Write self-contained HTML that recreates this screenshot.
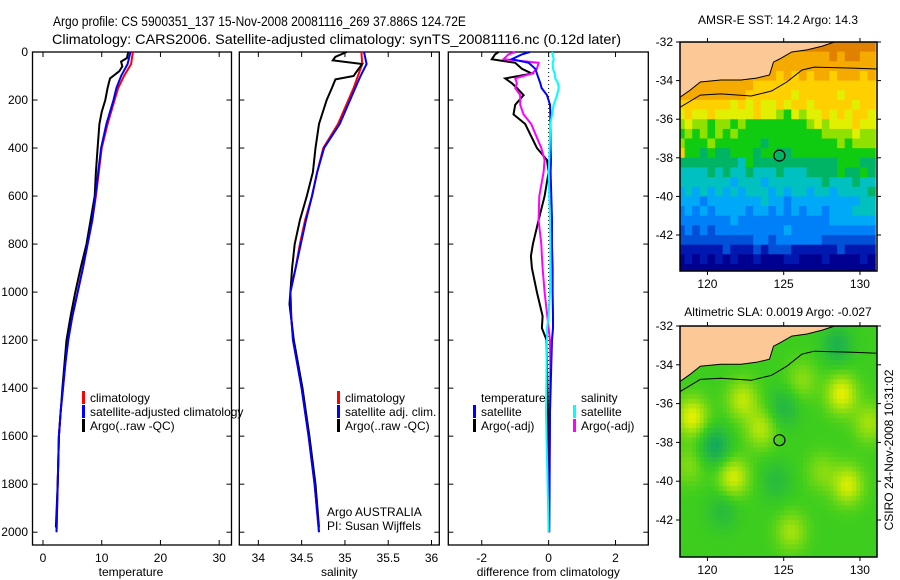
<!DOCTYPE html>
<html><head><meta charset="utf-8"><style>
body{margin:0;background:#fff;}
svg{display:block;font-family:"Liberation Sans",sans-serif;}
text{fill:#000;}
</style></head><body>
<svg id="fig" width="900" height="580" viewBox="0 0 900 580" xmlns="http://www.w3.org/2000/svg">
<text transform="translate(53,26) scale(0.86,1)" x="0" y="0" font-size="14">Argo profile: CS 5900351_137 15-Nov-2008 20081116_269 37.886S 124.72E</text>
<text x="52" y="44" font-size="14" textLength="569" lengthAdjust="spacingAndGlyphs">Climatology: CARS2006. Satellite-adjusted climatology: synTS_20081116.nc (0.12d later)</text>
<text x="778" y="24" font-size="12" text-anchor="middle">AMSR-E SST: 14.2 Argo: 14.3</text>
<text x="778" y="316" font-size="12" text-anchor="middle">Altimetric SLA: 0.0019 Argo: -0.027</text>
<text transform="translate(893,450) rotate(-90)" font-size="12" text-anchor="middle">CSIRO 24-Nov-2008 10:31:02</text>
<g id="layer"></g>
</svg>
<script>
// ---- profile data (depth in m) ----
const depthsClim = [0,50,100,150,200,300,400,500,600,700,800,900,1000,1100,1200,1300,1400,1500,1600,1800,2000];
const tempClim = [15.3,15.0,13.8,12.8,12.2,11.0,10.0,9.5,9.0,8.4,7.6,6.8,5.9,5.0,4.2,3.8,3.4,3.0,2.7,2.5,2.3];
const tempSat  = [14.9,14.4,13.3,12.5,12.0,10.8,9.9,9.4,8.9,8.4,7.6,6.8,5.9,5.0,4.3,3.8,3.4,3.0,2.7,2.5,2.3];
const depthsArgo = [0,25,40,60,80,110,150,200,250,300,400,500,600,700,800,900,1000,1100,1200,1400,1600,1800,1980];
const tempArgo = [14.5,14.3,13.3,13.5,13.0,11.4,11.0,10.6,10.0,9.6,9.3,9.0,8.8,8.1,7.4,6.4,5.5,4.7,4.0,3.3,2.7,2.5,2.2];
const salClim = [35.19,35.2,35.15,35.1,35.04,34.92,34.75,34.68,34.62,34.54,34.48,34.43,34.37,34.38,34.40,34.45,34.50,34.54,34.58,34.65,34.70];
const salSat  = [35.22,35.25,35.18,35.12,35.06,34.94,34.76,34.68,34.62,34.55,34.49,34.43,34.37,34.38,34.40,34.45,34.50,34.54,34.58,34.65,34.70];
const depthsSalArgo = [0,20,35,50,89,100,114,150,200,300,400,500,600,700,800,900,1000,1050,1200,1400,1600,1800,1980];
const salArgo = [35.02,34.89,34.86,35.2,35.12,35.1,34.89,34.85,34.79,34.70,34.66,34.63,34.56,34.48,34.42,34.39,34.37,34.36,34.41,34.51,34.59,34.66,34.70];
const depthsDiff = [0,10,30,45,70,90,110,130,150,180,220,260,300,400,450,500,600,700,800,850,900,1000,1100,1150,1200,1300,1500,2000];
const diffTempSat = [-0.56,-0.8,-1.1,-0.6,-0.4,-0.35,-0.3,-0.25,-0.21,-0.05,0.04,0.05,0.05,0.06,0.07,0.06,0.08,0.1,0.1,0.11,0.12,0.12,0.13,0.13,0.1,0.08,0.04,0.02];
const diffTempArgo = [-1.5,-1.6,-1.7,-1.0,-0.8,-0.5,-1.3,-1.1,-0.95,-0.75,-1.0,-1.05,-0.7,-0.35,-0.05,0.0,-0.12,-0.3,-0.47,-0.53,-0.5,-0.35,-0.18,-0.2,-0.06,-0.05,-0.02,0.0];
const diffSalSat = [0.1,0.12,0.15,0.12,0.13,0.18,0.2,0.28,0.3,0.25,0.15,0.1,0.05,0.03,0.02,0.0,0.02,0.04,0.05,0.05,0.05,0.04,0.0,-0.05,-0.05,-0.06,-0.08,0.0];
const diffSalArgo = [-1.0,-1.2,-1.35,-0.3,-0.35,-0.5,-1.0,-0.95,-1.0,-0.85,-0.85,-0.75,-0.52,-0.22,-0.12,-0.15,-0.28,-0.3,-0.22,-0.2,-0.18,-0.12,-0.04,0.0,0.04,0.05,0.04,0.0];
const depthTicks = [0,200,400,600,800,1000,1200,1400,1600,1800,2000];
const tempTicks = [0,10,20,30];
const salTicks = [34,34.5,35,35.5,36];
const diffTicks = [-2,0,2];
// ---- SST map data (rows -32 .. -43.5 lat, 0.5deg; cols lon 118..130.5) ----
const sstRows = [
"cccccccccccccccccccccccccc","bbbbbbbbbbbbbbbbbbbbcbccbb","bbbbbbbbbbbbbbbbbbbbbbbbbb","bbbbbbbbbbbbbabababbabbbab",
"bbbbbbbbbbaaaaaaaaaaaaaaaa","bbbbbbbbbaaaaaa9aaaaa9aaaa","aaaaaaa9a9a99a9aa9aaaaa9aa","9a99a99999a99879899a9a9aa9",
"89887887877777777898999a99","78787878777777777778888988","87778777777677777777787888","a7767667776776677777777777",
"66666666576666666666677766","55556565565556555666676676","55555554555455555556555655","45454545455545455455455556",
"44434444444544344444444455","34343444434434343443444555","33333334333333333333444444","23232333333333433333333333",
"22222222223323333332222222","11111121112122211111121111","01010101001000110001000010","00000000000000000000000000"];
const sstPalette = {"0":"#000090","1":"#0018b0","2":"#0050d8","3":"#0080f8","4":"#00a8f8","5":"#00c0c0","6":"#00b466","7":"#10cc10","8":"#90e000","9":"#e0f000","a":"#ffd000","b":"#f5aa00","c":"#e08200"};
// ---- SLA blobs: lon, lat, amplitude ----
const blobLon = [119,122.3,123.5,121.7,128.8,129.2,130.6,125.5,127.5,126.2,120.5,125,124.5,128.5,121,118.8];
const blobLat = [-36.7,-35.8,-37.3,-39.8,-35.5,-40.2,-37.0,-42.6,-39.5,-34.8,-38.2,-36.2,-40.0,-33.0,-41.5,-39.2];
const blobAmp = [1.0,0.75,0.7,0.9,1.0,0.9,0.6,0.6,0.4,0.45,-0.8,-0.5,-0.4,-0.6,-0.4,0.4];
// coastline / shelf
const coastLon = [118.13,118.87,119.53,120.87,122.2,123.2,124.07,124.33,124.73,125.53,126.53,127.53,128.33];
const coastLat = [-34.9,-34.49,-34.07,-33.97,-33.97,-33.87,-33.71,-33.04,-32.88,-32.52,-32.41,-32.21,-32.0];
const shelfLon = [118.13,119.53,120.87,122.87,124.2,125.2,126.2,127.0,129.53,131.1];
const shelfLat = [-35.42,-34.75,-34.69,-34.8,-34.54,-34.07,-33.45,-33.3,-33.35,-33.4];
const argoLon = 124.72, argoLat = -37.886;
const lonTicks = [120,125,130];
const latTicks = [-32,-34,-36,-38,-40,-42];

const NS="http://www.w3.org/2000/svg";
const layer=document.getElementById('layer');
function mk(tag,attrs,parent){const e=document.createElementNS(NS,tag);for(const k in attrs)e.setAttribute(k,attrs[k]);(parent||layer).appendChild(e);return e;}
function txt(x,y,s,size,anchor,parent){const t=mk('text',{x:x,y:y,'font-size':size,'text-anchor':anchor||'start'},parent);t.textContent=s;return t;}

const TOP=52,BOT=545;
const yD=d=>TOP+d*0.2401;
const panels=[
 {name:'temperature',x0:32.5,x1:231.5,v0:-1.79,v1:32.1,ticks:tempTicks,label:'temperature'},
 {name:'salinity',x0:239.3,x1:439.3,v0:33.78,v1:36.09,ticks:salTicks,label:'salinity'},
 {name:'difference',x0:448.3,x1:648.3,v0:-3.0,v1:2.98,ticks:diffTicks,label:'difference from climatology'}];
panels.forEach(p=>{p.sx=v=>p.x0+(v-p.v0)/(p.v1-p.v0)*(p.x1-p.x0);});

function line(p,depths,vals,color,name,w){
 let d='';depths.forEach((dd,i)=>{d+=(i?'L':'M')+p.sx(vals[i]).toFixed(1)+','+yD(dd).toFixed(1);});
 const e=mk('path',{d:d,fill:'none',stroke:color,'stroke-width':w||2,'stroke-linejoin':'miter'},p.g);
 
 
}

panels.forEach((p,pi)=>{
 const g=mk('g',{});
 
 
 p.g=g;
 const fr=mk('rect',{x:p.x0,y:TOP,width:p.x1-p.x0,height:BOT-TOP,fill:'#fff',stroke:'#000','stroke-width':1.3},g);
 
 
 p.ticks.forEach(t=>{const x=p.sx(t);
  mk('line',{x1:x,x2:x,y1:BOT,y2:BOT-5,stroke:'#000'},g);mk('line',{x1:x,x2:x,y1:TOP,y2:TOP+5,stroke:'#000'},g);
  const tl=txt(x,562,String(t),12,'middle',g);
  
  
 });
 depthTicks.forEach(d=>{const y=yD(d);
  mk('line',{x1:p.x0,x2:p.x0+5,y1:y,y2:y,stroke:'#000'},g);mk('line',{x1:p.x1,x2:p.x1-5,y1:y,y2:y,stroke:'#000'},g);
  if(pi===0){const tl=txt(28,y+4,String(d),12,'end',g);
   
   }
 });
 const al=txt((p.x0+p.x1)/2+(pi===0?-1:0),576,p.label,12,'middle',g);
 
 
});

// panel 1
line(panels[0],depthsClim,tempClim,'#ff0000','temp-climatology-line');
line(panels[0],depthsArgo,tempArgo,'#000000','temp-argo-line');
line(panels[0],depthsClim,tempSat,'#0000ff','temp-satellite-line');
// panel 2
line(panels[1],depthsClim,salClim,'#ff0000','sal-climatology-line');
line(panels[1],depthsSalArgo,salArgo,'#000000','sal-argo-line');
line(panels[1],depthsClim,salSat,'#0000ff','sal-satellite-line');
// panel 3
{const p=panels[2];const x=p.sx(0);
 const z=mk('line',{x1:x,x2:x,y1:yD(0),y2:yD(2000),stroke:'#000','stroke-dasharray':'1,3'},p.g);
 
 }
line(panels[2],depthsDiff,diffTempArgo,'#000000','diff-temp-argo-line');
line(panels[2],depthsDiff,diffSalArgo,'#ff00ff','diff-sal-argo-line');
line(panels[2],depthsDiff,diffTempSat,'#0000ff','diff-temp-satellite-line');
line(panels[2],depthsDiff,diffSalSat,'#00ffff','diff-sal-satellite-line');

function legend(x,y,color,label,name){
 const g=mk('g',{});
 
 
 mk('rect',{x:x,y:y-11,width:3,height:13,fill:color},g);
 txt(x+8,y,label,12,'start',g);
}
legend(82,402,'#ff0000','climatology','legend-climatology');
legend(82,416,'#0000ff','satellite-adjusted climatology','legend-satellite-adjusted');
legend(82,430,'#000000','Argo(..raw -QC)','legend-argo');
legend(337,402,'#ff0000','climatology','legend-sal-climatology');
legend(337,416,'#0000ff','satellite adj. clim.','legend-sal-satellite');
legend(337,430,'#000000','Argo(..raw -QC)','legend-sal-argo');
{const t=txt(481,402,'temperature',12);
 const s=txt(581,402,'salinity',12);}
legend(473,416,'#0000ff','satellite','legend-diff-temp-satellite');
legend(473,430,'#000000','Argo(-adj)','legend-diff-temp-argo');
legend(573,416,'#00ffff','satellite','legend-diff-sal-satellite');
legend(573,430,'#ff00ff','Argo(-adj)','legend-diff-sal-argo');
{const a=txt(327,516,'Argo AUSTRALIA',12);
 const b=txt(327,530,'PI: Susan Wijffels',12);}

// ---- maps ----
function makeMap(name,y0,y1,latScale,fillFn,landFill){
 const m={x0:680,x1:877,y0:y0,y1:y1};
 m.sx=lon=>680+(lon-118.2)*15.25;
 m.sy=lat=>y0+(-32-lat)*latScale;
 const g=mk('g',{});
 
 
 const cid=name+'-clip';
 const cp=mk('clipPath',{id:cid},g);mk('rect',{x:680,y:y0,width:197,height:y1-y0},cp);
 const inner=mk('g',{'clip-path':'url(#'+cid+')'},g);
 fillFn(m,inner);
 let d='M'+m.sx(117)+','+m.sy(coastLat[0]);
 coastLon.forEach((lo,i)=>{d+='L'+m.sx(lo).toFixed(1)+','+m.sy(coastLat[i]).toFixed(1);});
 d+='L'+m.sx(132)+','+m.sy(-31)+'L'+m.sx(117)+','+m.sy(-31)+'Z';
 const land=mk('path',{d:d,fill:landFill,stroke:'#000','stroke-width':1},inner);
 
 
 let s='';shelfLon.forEach((lo,i)=>{s+=(i?'L':'M')+m.sx(lo).toFixed(1)+','+m.sy(shelfLat[i]).toFixed(1);});
 const sh=mk('path',{d:s,fill:'none',stroke:'#000','stroke-width':1},inner);
 
 
 const c=mk('circle',{cx:m.sx(argoLon),cy:m.sy(argoLat),r:5.5,fill:'none',stroke:'#000','stroke-width':1.2},inner);
 
 
 mk('rect',{x:680,y:y0,width:197,height:y1-y0,fill:'none',stroke:'#000','stroke-width':1.5},g);
 lonTicks.forEach(lo=>{const x=m.sx(lo);mk('line',{x1:x,x2:x,y1:y0,y2:y0-4,stroke:'#000'},g);mk('line',{x1:x,x2:x,y1:y1,y2:y1+4,stroke:'#000'},g);
  const t=txt(x,y1+17,String(lo),12,'middle',g);});
 latTicks.forEach(la=>{const y=m.sy(la);mk('line',{x1:680,x2:676,y1:y,y2:y,stroke:'#000'},g);mk('line',{x1:877,x2:881,y1:y,y2:y,stroke:'#000'},g);
  const t=txt(673,y+4,String(la),12,'end',g);});
}
makeMap('sst-map',42,271,19.3,(m,g)=>{
 sstRows.forEach((row,r)=>{for(let c=0;c<row.length;c++){
  const lon=118+c*0.5,lat=-32-r*0.5;
  const x=m.sx(lon),y=m.sy(lat),w=m.sx(lon+0.5)-x,h=m.sy(lat-0.5)-y;
  const cell=mk('rect',{x:x.toFixed(1),y:y.toFixed(1),width:(w+0.6).toFixed(1),height:(h+0.6).toFixed(1),fill:sstPalette[row[c]]},g);
  
  
 }});
},'#fbc896');
function slaColor(v){
 const t=Math.max(-1,Math.min(1,v));
 let r,gg,b;
 if(t>=0){r=60+t*170;gg=205+t*35;b=30-t*30;}else{const u=-t;r=60-u*50;gg=205-u*45;b=30+u*80;}
 return 'rgb('+Math.round(r)+','+Math.round(gg)+','+Math.round(b)+')';
}
makeMap('sla-map',326,557,19.4,(m,g)=>{
 for(let lon=118;lon<131.2;lon+=0.25){for(let lat=-32;lat>-44;lat-=0.25){
  let v=0;const cl=lon+0.125,ca=lat-0.125;
  blobLon.forEach((bl,i)=>{const dx=cl-bl,dy=ca-blobLat[i];v+=blobAmp[i]*Math.exp(-(dx*dx+dy*dy)/1.0);});
  const x=m.sx(lon),y=m.sy(lat);
  const cell=mk('rect',{x:x.toFixed(1),y:y.toFixed(1),width:4.4,height:5.5,fill:slaColor(v)},g);
  
  
 }}
},'#fbc896');
</script>
</body></html>
